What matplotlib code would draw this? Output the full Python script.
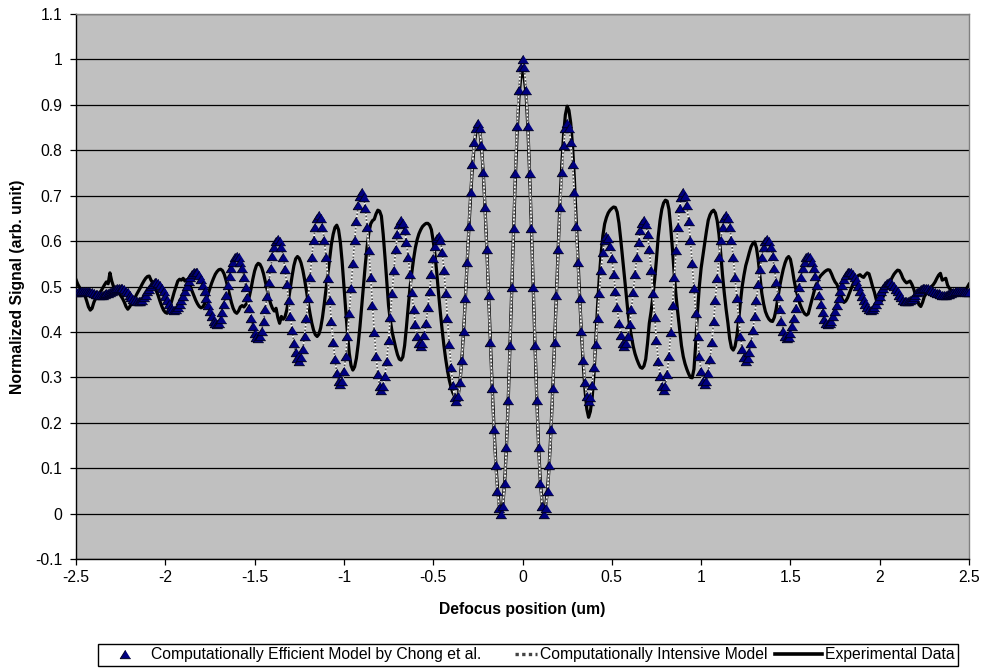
import numpy as np
import matplotlib
matplotlib.use("Agg")
import matplotlib.pyplot as plt
from matplotlib.lines import Line2D
from matplotlib.legend_handler import HandlerTuple

plt.rcParams['font.family'] = ['Liberation Sans', 'DejaVu Sans']

# Sampling positions of the defocus scan (um), 0.01 um step
defocus_um = np.linspace(-2.5, 2.5, 501)

# Computationally efficient model (triangles), x = -2.50 ... 2.50
efficient_model = [
    0.487, 0.488, 0.488, 0.489, 0.490, 0.490, 0.490, 0.489, 0.488, 0.487,
    0.485, 0.484, 0.483, 0.482, 0.482, 0.482, 0.483, 0.485, 0.486, 0.488,
    0.491, 0.493, 0.494, 0.496, 0.497, 0.497, 0.496, 0.494, 0.491, 0.487,
    0.482, 0.477, 0.473, 0.470, 0.468, 0.467, 0.468, 0.471, 0.476, 0.482,
    0.489, 0.495, 0.501, 0.506, 0.509, 0.510, 0.508, 0.504, 0.497, 0.489,
    0.480, 0.470, 0.462, 0.455, 0.450, 0.449, 0.450, 0.455, 0.461, 0.470,
    0.480, 0.491, 0.502, 0.512, 0.521, 0.527, 0.532, 0.533, 0.531, 0.525,
    0.516, 0.504, 0.490, 0.475, 0.460, 0.446, 0.434, 0.425, 0.419, 0.417,
    0.420, 0.429, 0.443, 0.461, 0.481, 0.503, 0.523, 0.541, 0.555, 0.564,
    0.567, 0.564, 0.555, 0.541, 0.522, 0.500, 0.477, 0.453, 0.431, 0.413,
    0.398, 0.389, 0.386, 0.390, 0.403, 0.424, 0.450, 0.480, 0.511, 0.541,
    0.567, 0.588, 0.601, 0.605, 0.600, 0.587, 0.566, 0.538, 0.506, 0.471,
    0.436, 0.404, 0.376, 0.355, 0.342, 0.337, 0.344, 0.362, 0.392, 0.431,
    0.474, 0.520, 0.564, 0.602, 0.632, 0.651, 0.657, 0.651, 0.632, 0.603,
    0.564, 0.519, 0.471, 0.423, 0.378, 0.340, 0.310, 0.291, 0.285, 0.292,
    0.313, 0.347, 0.391, 0.441, 0.496, 0.551, 0.602, 0.645, 0.679, 0.700,
    0.707, 0.698, 0.673, 0.632, 0.580, 0.521, 0.459, 0.400, 0.348, 0.308,
    0.282, 0.273, 0.281, 0.303, 0.337, 0.382, 0.433, 0.486, 0.537, 0.582,
    0.616, 0.638, 0.646, 0.640, 0.624, 0.598, 0.565, 0.528, 0.488, 0.451,
    0.418, 0.392, 0.376, 0.370, 0.376, 0.393, 0.420, 0.454, 0.491, 0.528,
    0.562, 0.589, 0.606, 0.612, 0.603, 0.577, 0.537, 0.486, 0.430, 0.374,
    0.323, 0.283, 0.257, 0.248, 0.258, 0.289, 0.338, 0.401, 0.475, 0.554,
    0.633, 0.707, 0.770, 0.819, 0.850, 0.860, 0.848, 0.811, 0.752, 0.674,
    0.583, 0.482, 0.378, 0.277, 0.186, 0.108, 0.049, 0.012, 0.000, 0.017,
    0.067, 0.146, 0.250, 0.371, 0.500, 0.629, 0.750, 0.854, 0.933, 0.983,
    1.000, 0.983, 0.933, 0.854, 0.750, 0.629, 0.500, 0.371, 0.250, 0.146,
    0.067, 0.017, 0.000, 0.012, 0.049, 0.108, 0.186, 0.277, 0.378, 0.482,
    0.583, 0.674, 0.752, 0.811, 0.848, 0.860, 0.850, 0.819, 0.770, 0.707,
    0.633, 0.554, 0.475, 0.401, 0.338, 0.289, 0.258, 0.248, 0.257, 0.283,
    0.323, 0.374, 0.430, 0.486, 0.537, 0.577, 0.603, 0.612, 0.606, 0.589,
    0.562, 0.528, 0.491, 0.454, 0.420, 0.393, 0.376, 0.370, 0.376, 0.392,
    0.418, 0.451, 0.488, 0.528, 0.565, 0.598, 0.624, 0.640, 0.646, 0.638,
    0.616, 0.582, 0.537, 0.486, 0.433, 0.382, 0.337, 0.303, 0.281, 0.273,
    0.282, 0.308, 0.348, 0.400, 0.459, 0.521, 0.580, 0.632, 0.673, 0.698,
    0.707, 0.700, 0.679, 0.645, 0.602, 0.551, 0.496, 0.441, 0.391, 0.347,
    0.313, 0.292, 0.285, 0.291, 0.310, 0.340, 0.378, 0.423, 0.471, 0.519,
    0.564, 0.603, 0.632, 0.651, 0.657, 0.651, 0.632, 0.602, 0.564, 0.520,
    0.474, 0.431, 0.392, 0.362, 0.344, 0.337, 0.342, 0.355, 0.376, 0.404,
    0.436, 0.471, 0.506, 0.538, 0.566, 0.587, 0.600, 0.605, 0.601, 0.588,
    0.567, 0.541, 0.511, 0.480, 0.450, 0.424, 0.403, 0.390, 0.386, 0.389,
    0.398, 0.413, 0.431, 0.453, 0.477, 0.500, 0.522, 0.541, 0.555, 0.564,
    0.567, 0.564, 0.555, 0.541, 0.523, 0.503, 0.481, 0.461, 0.443, 0.429,
    0.420, 0.417, 0.419, 0.425, 0.434, 0.446, 0.460, 0.475, 0.490, 0.504,
    0.516, 0.525, 0.531, 0.533, 0.532, 0.527, 0.521, 0.512, 0.502, 0.491,
    0.480, 0.470, 0.461, 0.455, 0.450, 0.449, 0.450, 0.455, 0.462, 0.470,
    0.480, 0.489, 0.497, 0.504, 0.508, 0.510, 0.509, 0.506, 0.501, 0.495,
    0.489, 0.482, 0.476, 0.471, 0.468, 0.467, 0.468, 0.470, 0.473, 0.477,
    0.482, 0.487, 0.491, 0.494, 0.496, 0.497, 0.497, 0.496, 0.494, 0.493,
    0.491, 0.488, 0.486, 0.485, 0.483, 0.482, 0.482, 0.482, 0.483, 0.484,
    0.485, 0.487, 0.488, 0.489, 0.490, 0.490, 0.490, 0.489, 0.488, 0.488,
    0.487,
]

# Computationally intensive model: coincides with the efficient model at this scale
intensive_model = list(efficient_model)

# Experimental data (black line), x = -2.50 ... 2.50
experimental = [
    0.515, 0.505, 0.498, 0.492, 0.488, 0.480, 0.468, 0.455, 0.448, 0.452,
    0.465, 0.474, 0.480, 0.486, 0.490, 0.497, 0.504, 0.510, 0.506, 0.530,
    0.512, 0.500, 0.496, 0.492, 0.486, 0.480, 0.474, 0.466, 0.456, 0.450,
    0.455, 0.462, 0.468, 0.475, 0.483, 0.490, 0.497, 0.505, 0.512, 0.518,
    0.522, 0.523, 0.514, 0.508, 0.500, 0.490, 0.480, 0.468, 0.457, 0.448,
    0.443, 0.441, 0.448, 0.460, 0.474, 0.488, 0.500, 0.512, 0.516, 0.514,
    0.518, 0.512, 0.515, 0.508, 0.500, 0.490, 0.480, 0.470, 0.462, 0.456,
    0.453, 0.455, 0.462, 0.472, 0.484, 0.496, 0.508, 0.518, 0.527, 0.533,
    0.537, 0.538, 0.535, 0.527, 0.514, 0.498, 0.481, 0.465, 0.452, 0.444,
    0.441, 0.446, 0.455, 0.458, 0.455, 0.460, 0.465, 0.477, 0.495, 0.516,
    0.534, 0.546, 0.551, 0.549, 0.541, 0.528, 0.511, 0.493, 0.476, 0.462,
    0.452, 0.446, 0.452, 0.432, 0.419, 0.434, 0.428, 0.433, 0.448, 0.471,
    0.497, 0.523, 0.546, 0.561, 0.566, 0.562, 0.552, 0.536, 0.515, 0.491,
    0.465, 0.441, 0.420, 0.404, 0.394, 0.390, 0.395, 0.409, 0.432, 0.462,
    0.495, 0.530, 0.563, 0.593, 0.615, 0.630, 0.635, 0.625, 0.598, 0.555,
    0.503, 0.448, 0.396, 0.353, 0.326, 0.316, 0.323, 0.342, 0.373, 0.412,
    0.457, 0.504, 0.549, 0.588, 0.619, 0.638, 0.645, 0.648, 0.660, 0.668,
    0.666, 0.655, 0.615, 0.565, 0.510, 0.458, 0.425, 0.400, 0.382, 0.365,
    0.350, 0.340, 0.338, 0.345, 0.370, 0.410, 0.455, 0.497, 0.530, 0.560,
    0.585, 0.603, 0.616, 0.625, 0.632, 0.636, 0.639, 0.639, 0.635, 0.625,
    0.600, 0.570, 0.530, 0.485, 0.443, 0.405, 0.370, 0.340, 0.315, 0.294,
    0.278, 0.266, 0.258, 0.255, 0.260, 0.290, 0.338, 0.400, 0.473, 0.552,
    0.630, 0.703, 0.765, 0.813, 0.843, 0.855, 0.845, 0.810, 0.752, 0.675,
    0.585, 0.485, 0.382, 0.282, 0.192, 0.115, 0.056, 0.018, 0.006, 0.020,
    0.068, 0.146, 0.248, 0.368, 0.495, 0.622, 0.740, 0.840, 0.915, 0.960,
    0.975, 0.958, 0.925, 0.850, 0.748, 0.628, 0.500, 0.372, 0.252, 0.150,
    0.070, 0.022, 0.008, 0.018, 0.052, 0.110, 0.188, 0.280, 0.382, 0.488,
    0.592, 0.686, 0.768, 0.834, 0.878, 0.897, 0.888, 0.860, 0.810, 0.740,
    0.655, 0.565, 0.478, 0.398, 0.330, 0.272, 0.230, 0.212, 0.225, 0.255,
    0.305, 0.380, 0.455, 0.520, 0.572, 0.612, 0.638, 0.652, 0.662, 0.668,
    0.672, 0.675, 0.674, 0.664, 0.640, 0.604, 0.565, 0.527, 0.485, 0.445,
    0.412, 0.390, 0.368, 0.352, 0.340, 0.330, 0.322, 0.320, 0.325, 0.340,
    0.375, 0.419, 0.445, 0.478, 0.515, 0.560, 0.610, 0.645, 0.670, 0.684,
    0.690, 0.688, 0.670, 0.630, 0.580, 0.525, 0.478, 0.440, 0.405, 0.370,
    0.346, 0.330, 0.318, 0.308, 0.300, 0.299, 0.318, 0.375, 0.445, 0.500,
    0.540, 0.568, 0.595, 0.622, 0.646, 0.658, 0.665, 0.668, 0.662, 0.645,
    0.615, 0.572, 0.525, 0.485, 0.450, 0.420, 0.385, 0.365, 0.360, 0.368,
    0.390, 0.425, 0.465, 0.500, 0.525, 0.546, 0.560, 0.575, 0.588, 0.595,
    0.598, 0.585, 0.558, 0.520, 0.485, 0.462, 0.445, 0.435, 0.428, 0.424,
    0.423, 0.432, 0.450, 0.475, 0.500, 0.520, 0.538, 0.552, 0.562, 0.566,
    0.560, 0.540, 0.515, 0.495, 0.480, 0.465, 0.455, 0.446, 0.440, 0.437,
    0.440, 0.455, 0.470, 0.485, 0.500, 0.510, 0.518, 0.524, 0.528, 0.532,
    0.535, 0.537, 0.536, 0.528, 0.518, 0.510, 0.505, 0.495, 0.483, 0.472,
    0.465, 0.468, 0.475, 0.485, 0.495, 0.505, 0.513, 0.520, 0.524, 0.526,
    0.522, 0.520, 0.526, 0.530, 0.528, 0.515, 0.500, 0.488, 0.472, 0.463,
    0.462, 0.468, 0.478, 0.488, 0.497, 0.505, 0.512, 0.520, 0.527, 0.532,
    0.536, 0.535, 0.528, 0.518, 0.512, 0.508, 0.510, 0.512, 0.505, 0.495,
    0.482, 0.470, 0.460, 0.456, 0.465, 0.478, 0.484, 0.490, 0.495, 0.500,
    0.504, 0.510, 0.518, 0.525, 0.529, 0.514, 0.516, 0.518, 0.503, 0.496,
    0.492, 0.490, 0.489, 0.490, 0.488, 0.489, 0.490, 0.491, 0.493, 0.498,
    0.505,
]

x_ticks = [-2.5, -2.0, -1.5, -1.0, -0.5, 0.0, 0.5, 1.0, 1.5, 2.0, 2.5]
x_tick_labels = ['-2.5', '-2', '-1.5', '-1', '-0.5', '0', '0.5', '1', '1.5', '2', '2.5']
y_ticks = [-0.1, 0.0, 0.1, 0.2, 0.3, 0.4, 0.5, 0.6, 0.7, 0.8, 0.9, 1.0, 1.1]
y_tick_labels = ['-0.1', '0', '0.1', '0.2', '0.3', '0.4', '0.5', '0.6', '0.7',
                 '0.8', '0.9', '1', '1.1']
series_labels = ['Computationally Efficient Model by Chong et al.',
                 'Computationally Intensive Model',
                 'Experimental Data']

W, H = 986, 669
FS = 11.3
fig = plt.figure(figsize=(W / 100, H / 100), dpi=100)
ax = fig.add_axes([76 / W, 1 - 559 / H, (969 - 76) / W, (559 - 14) / H])
ax.set_facecolor('#C0C0C0')
ax.set_xlim(-2.5, 2.5)
ax.set_ylim(-0.1, 1.1)

ax.set_yticks(y_ticks)
ax.set_yticklabels(y_tick_labels)
ax.set_xticks(x_ticks)
ax.set_xticklabels(x_tick_labels)
ax.grid(axis='y', color='black', linewidth=0.9, zorder=1)
ax.set_axisbelow(True)
ax.tick_params(direction='out', length=4, width=0.9, colors='black',
               labelsize=FS)
ax.tick_params(axis='y', pad=6)
ax.tick_params(axis='x', pad=4)

for side in ['left', 'bottom']:
    ax.spines[side].set_color('black')
    ax.spines[side].set_linewidth(1.0)
for side in ['top', 'right']:
    ax.spines[side].set_color('#808080')
    ax.spines[side].set_linewidth(1.0)

tri = [(0, 0.8), (-1, -0.8), (1, -0.8)]
navy = '#000080'
MS = 7.5

ax.plot(defocus_um, experimental, color='black', linewidth=2.3, zorder=3,
        solid_joinstyle='round')
ax.plot(defocus_um, intensive_model, color='white', linewidth=1.3, zorder=4)
ax.plot(defocus_um, intensive_model, color='#555555', linewidth=1.3,
        dashes=(1, 1), zorder=4.1)
ax.plot(defocus_um, efficient_model, linestyle='none', marker=tri, markersize=MS,
        markerfacecolor=navy, markeredgecolor='#000020', markeredgewidth=0.7,
        zorder=5)

ax.set_xlabel('Defocus position (um)', fontsize=FS, fontweight='bold')
ax.xaxis.set_label_coords(0.5, -0.078)
ax.set_ylabel('Normalized Signal (arb. unit)', fontsize=FS, fontweight='bold')
ax.yaxis.set_label_coords(-0.057, 0.5)

h_tri = Line2D([], [], linestyle='none', marker=tri, markersize=MS,
               markerfacecolor=navy, markeredgecolor='#000020', markeredgewidth=0.7)
h_dot = (Line2D([], [], color='white', linewidth=2.4),
         Line2D([], [], color='#444444', linewidth=2.4, dashes=(1, 1)))
h_exp = Line2D([], [], color='black', linewidth=2.6)

leg = fig.legend([h_tri, h_dot, h_exp], series_labels, loc='center',
                 bbox_to_anchor=(528 / W, 1 - 655 / H), ncol=3, frameon=True,
                 fancybox=False, edgecolor='black', framealpha=1, fontsize=FS,
                 handlelength=3.0, handletextpad=0.2, columnspacing=0.5,
                 borderpad=0.2, borderaxespad=0,
                 handler_map={tuple: HandlerTuple(ndivide=None)})
leg.get_frame().set_linewidth(1.0)

fig.savefig('out.png', dpi=100)
